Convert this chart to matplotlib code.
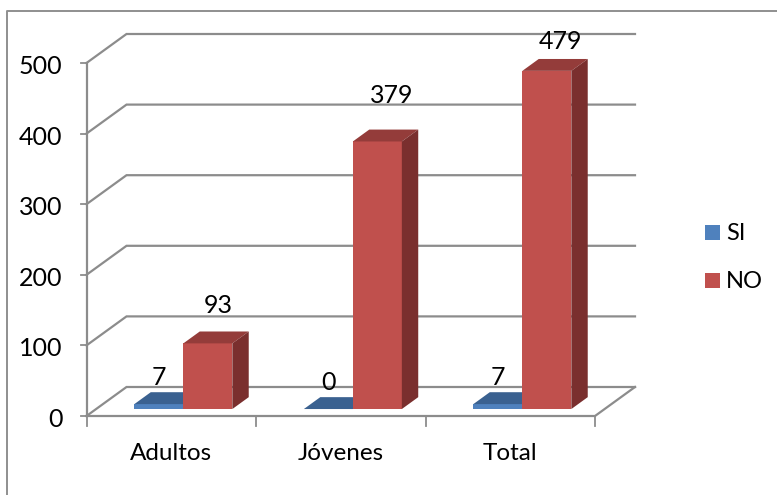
import matplotlib
matplotlib.use("Agg")
import matplotlib.pyplot as plt
from matplotlib.patches import Polygon, Rectangle
from matplotlib.lines import Line2D

plt.rcParams['font.family'] = ['Lato', 'DejaVu Sans']

categories = ["Adultos", "Jóvenes", "Total"]
si_values = [7, 0, 7]
no_values = [93, 379, 479]
y_ticks = [0, 100, 200, 300, 400, 500]

W, H = 777, 495
fig = plt.figure(figsize=(W / 100, H / 100), dpi=100)
fig.patch.set_facecolor("white")

# outer frame (open at the bottom and on the right)
fig.add_artist(Line2D([7 / W, 7 / W, 1], [0, (H - 10.5) / H, (H - 10.5) / H],
                      color="#8f8f8f", lw=1.4))

L, R, B, T = 86.5, 595, 416, 63
ax = fig.add_axes([L / W, (H - B) / H, (R - L) / W, (B - T) / H])
ax.set_xlim(0, 3)
ax.set_ylim(0, 500)
ax.axis("off")

px_x = 3 / (R - L)
px_y = 500 / (B - T)
DX, DY = 40 * px_x, 29 * px_y


def P(x, y, d):
    return (x + DX * d, y + DY * d)


GRID = "#8c8c8c"
for t in y_ticks:
    ax.plot(*zip(P(0, t, 0), P(0, t, 1), P(3, t, 1)), color=GRID, lw=1.6,
            clip_on=False, zorder=1, solid_joinstyle="miter")
ax.plot(*zip(P(0, 0, 0), P(3, 0, 0), P(3, 0, 1)), color=GRID, lw=1.6, clip_on=False, zorder=1)
ax.plot([0, 0], [0, 500], color=GRID, lw=1.6, clip_on=False, zorder=1)

# tick marks and tick labels
for t in y_ticks:
    ax.plot([0, -6 * px_x], [t, t], color=GRID, lw=1.3, clip_on=False, zorder=1)
    ax.text(-24 * px_x, t - 3.5 * px_y, str(t), ha="right", va="center", fontsize=18, color="black")
for i in range(4):
    ax.plot([i, i], [0, -10 * px_y], color=GRID, lw=1.3, clip_on=False, zorder=1)
for i, c in enumerate(categories):
    ax.text(i + 0.5, -44 * px_y, c, ha="center", va="baseline", fontsize=17.5, color="black")

BW = 0.289
D0, D1 = 0.24, 0.65
SHIFT = 2.5 * px_x


def bar3d(x0, v, front, top, side, z):
    x1 = x0 + BW
    ax.add_patch(Polygon([P(x0, 0, D0), P(x1, 0, D0), P(x1, v, D0), P(x0, v, D0)],
                         fc=front, ec="none", clip_on=False, zorder=z))
    ax.add_patch(Polygon([P(x0, v, D0), P(x1, v, D0), P(x1, v, D1), P(x0, v, D1)],
                         fc=top, ec="none", clip_on=False, zorder=z))
    ax.add_patch(Polygon([P(x1, 0, D0), P(x1, 0, D1), P(x1, v, D1), P(x1, v, D0)],
                         fc=side, ec="none", clip_on=False, zorder=z))


# label offsets from the front top of the bar, in pixels
si_label_up = [27, 27, 27]
no_label_right = [10, 14, 14]
no_label_up = [38, 46, 29]

for i, (s, n) in enumerate(zip(si_values, no_values)):
    c = i + 0.5 + SHIFT
    bar3d(c - BW, s, "#4f81bd", "#3a6190", "#2f4f78", 3)
    bar3d(c, n, "#c0504d", "#943c3a", "#7a2f2e", 4)
    x, y = P(c - BW / 2, s, D0)
    ax.text(x, y + si_label_up[i] * px_y, str(s), ha="center", va="center", fontsize=18,
            color="black", zorder=6)
    x, y = P(c + BW / 2, n, D0)
    ax.text(x + no_label_right[i] * px_x, y + no_label_up[i] * px_y, str(n), ha="center",
            va="center", fontsize=18, color="black", zorder=6)

# legend
for name, col, yc in zip(["SI", "NO"], ["#4f81bd", "#c0504d"], [232, 280]):
    fig.add_artist(Rectangle((705 / W, (H - yc - 7.5) / H), 15 / W, 15 / H, fc=col, ec="none",
                             transform=fig.transFigure))
    fig.text(726 / W, (H - yc - 1) / H, name, ha="left", va="center", fontsize=17, color="black")

fig.savefig("out.png", dpi=100)
